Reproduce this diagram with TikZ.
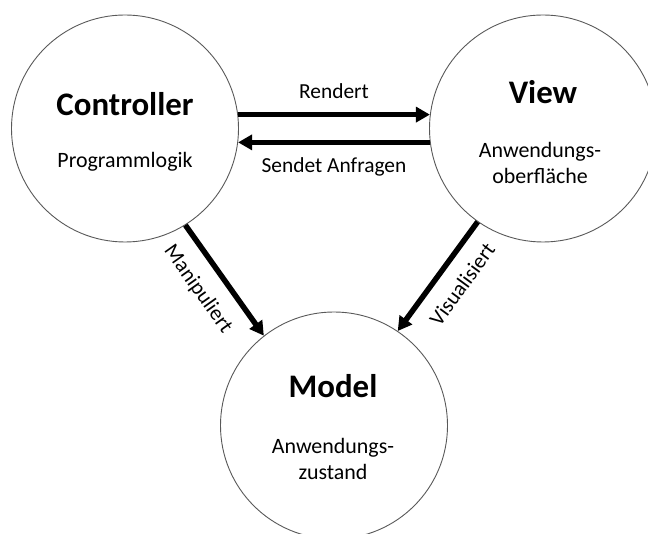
\documentclass[tikz,border=0pt]{standalone}
\usepackage{fontspec}
\setmainfont{Carlito}
\usetikzlibrary{arrows.meta}
\definecolor{ringgray}{HTML}{595959}

\begin{document}
\begin{tikzpicture}[
    unit/.style={circle, draw=ringgray, line width=0.9bp, minimum size=227bp, inner sep=0pt},
    title/.style={font=\fontsize{33}{39}\selectfont\bfseries},
    role/.style={font=\fontsize{22}{26}\selectfont, align=center},
    act/.style={font=\fontsize{21.5}{26}\selectfont, inner sep=0pt},
    flow/.style={line width=5.5bp, -{Triangle[length=14bp, width=15bp]}},
    x=1bp, y=1bp]

    \path[use as bounding box] (0, 0) rectangle (648, 534);
    \clip (0, 0) rectangle (648, 534);

    % ----- the three parts, as circles
    \node[unit] (ctrl)  at (125, 405.5) {};
    \node[unit] (view)  at (543, 405.5) {};
    \node[unit] (model) at (334, 108.5) {};

    \node[title] (ctrlname)  at (125, 430)   {Controller};
    \node[role]  (ctrlrole)  at (125, 372.5) {Programmlogik};
    \node[title] (viewname)  at (543, 442)   {View};
    \node[role]  (viewrole)  at (540, 371)   {Anwendungs-\\oberfläche};
    \node[title] (modelname) at (333, 148)   {Model};
    \node[role]  (modelrole) at (333, 75)    {Anwendungs-\\zustand};

    % ----- what each part does to the other
    \draw[flow] (ctrl.7) -- node[act, above=13.5bp] (rendert) {Rendert} (view.173);
    \draw[flow] (view.187) -- node[act, below=13bp] (anfragen) {Sendet Anfragen} (ctrl.-7);
    \draw[flow] (ctrl.-58) -- node[act, sloped, pos=0.44, below=15bp] (manip) {Manipuliert} (model.128);
    \draw[flow] (view.-125) -- node[act, sloped, pos=0.44, below=14bp] (visual) {Visualisiert} (model.56);
\end{tikzpicture}
\end{document}
